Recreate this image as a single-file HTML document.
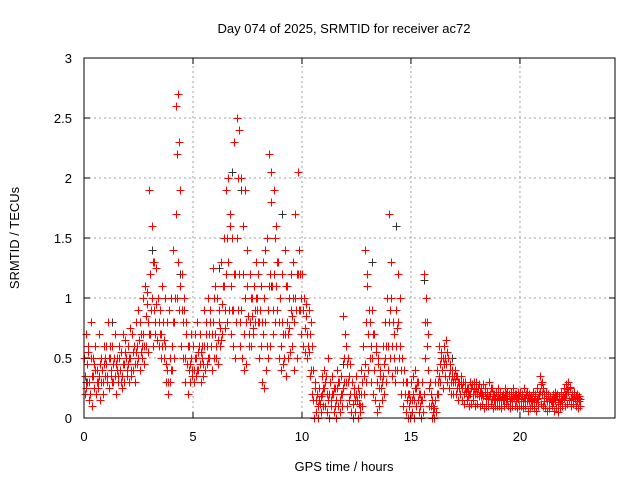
<!DOCTYPE html>
<html><head><meta charset="utf-8"><style>
body{margin:0;background:#fff;}
svg{display:block;font-family:"Liberation Sans",sans-serif;}
</style></head><body>
<svg id="chart" width="640" height="480">
<rect x="0" y="0" width="640" height="480" fill="#fff"/>
<text x="344" y="33" font-size="13" text-anchor="middle">Day 074 of 2025, SRMTID for receiver ac72</text>
<text x="344" y="471" font-size="13" text-anchor="middle">GPS time / hours</text>
<text transform="translate(19,238) rotate(-90)" font-size="13" text-anchor="middle">SRMTID / TECUs</text>
<g id="grid"></g><g id="marks"></g><g id="axes"></g>
</svg>
<script>
const xTicks=[0,5,10,15,20];
const yTicks=[0,0.5,1,1.5,2,2.5,3];
const yTickLabels=["0","0.5","1","1.5","2","2.5","3"];
const tStart=0, tStep=0.1;
const upper=[.5,.7,.6,.8,.5,.6,.4,.7,.5,.6, .6,.8,.5,.6,.7,.5,.6,.55,.7,.65, .6,.75,.7,.6,.8,.9,.7,1.0,1.1,1.05, 1.9,1.6,1.3,1.25,1.0,.9,1.1,1.0,.8,.9, 1.0,1.4,2.6,2.7,1.9,1.2,.9,.8,.6,.7, .6,.7,.8,.7,.6,.9,.8,1.0,.9,1.25, 1.1,1.0,.9,1.3,1.5,1.9,2.0,1.7,1.5,2.3, 2.5,2.4,2.0,1.6,1.9,1.4,1.2,1.0,1.1,1.3, 1.2,1.1,1.3,1.4,1.5,2.2,2.05,1.9,1.6,1.3, 1.0,1.2,1.4,1.1,1.0,1.2,1.3,1.7,2.05,1.2, 1.2,1.0,.95,.9,.8,.4,.3,.2,.25,.35, .4,.35,.5,.3,.35,.25,.4,.3,.35,.85, .6,.5,.45,.3,.25,.35,.2,.4,.6,1.4, 1.2,.8,.9,.7,.6,.5,.4,.6,.8,1.0, 1.7,1.0,.7,.9,1.2,.6,.5,.4,.3,.2, .3,.35,.4,.3,.2,.3,1.2,1.0,.4,.2, .1,.3,.4,.6,.55,.6,.65,.5,.45,.4, .4,.35,.3,.35,.3,.3,.25,.3,.28,.3, .3,.28,.25,.28,.25,.22,.3,.25,.2,.22, .25,.22,.2,.25,.22,.2,.22,.25,.2,.22, .22,.2,.25,.22,.2,.18,.22,.2,.25,.35, .3,.2,.22,.2,.18,.2,.22,.2,.18,.22, .25,.28,.3,.25,.2,.22,.2,.18];
const lower=[.2,.3,.15,.1,.25,.2,.3,.15,.3,.35, .3,.25,.35,.3,.2,.3,.4,.25,.3,.35, .3,.35,.4,.3,.45,.4,.5,.45,.6,.55, .7,.6,.7,.65,.6,.5,.5,.3,.2,.3, .4,.5,1.0,.9,.6,.5,.3,.2,.3,.35, .3,.35,.4,.3,.35,.4,.45,.5,.4,.5, .5,.45,.6,.7,.75,.8,.9,.7,.6,.5, .9,.6,.5,.4,.45,.6,.6,.7,.8,.9, .5,.3,.25,.4,.5,.6,.7,.8,.9,.5, .4,.45,.35,.5,.55,.6,.4,.5,.9,.7, .6,.55,.5,.35,.2,0,.05,0,.05,.1, .1,.05,0,.1,.05,0,.1,.05,.1,.3, .1,.15,.05,0,.05,0,.05,.1,.2,.3, .4,.3,.2,.15,.05,.1,.15,.2,.3,.4, .5,.35,.3,.4,.5,.2,.1,.05,0,0, .05,0,.1,.05,0,.05,.5,.6,.1,0, 0,.05,.2,.3,.25,.35,.3,.25,.2,.2, .2,.15,.2,.15,.12,.15,.1,.12,.15,.1, .12,.1,.12,.08,.1,.1,.12,.08,.1,.1, .1,.08,.1,.12,.1,.08,.1,.1,.08,.1, .1,.08,.1,.06,.08,.1,.08,.06,.1,.12, .1,.08,.06,.08,.1,.06,.08,.05,.08,.1, .1,.12,.15,.1,.12,.1,.08,.1];
const midA=[.35,.45,.3,.5,.35,.4,.25,.45,.4,.45, .45,.5,.4,.45,.35,.4,.5,.35,.45,.5, .45,.5,.55,.45,.6,.65,.55,.7,.85,.8, 1.2,1.0,.9,.95,.8,.7,.8,.6,.4,.5, .6,.8,1.7,1.3,1.1,.8,.5,.45,.4,.5, .4,.5,.55,.45,.5,.6,.6,.7,.6,.8, .7,.65,.75,.95,1.1,1.2,1.3,1.1,.9,1.2, 1.5,1.2,.9,.7,.8,.85,.8,.85,.9,1.0, .8,.6,.7,.8,.9,1.2,1.1,1.2,1.1,.8, .6,.7,.7,.8,.75,.85,.8,.9,1.2,.9, .9,.75,.7,.55,.4,.15,.15,.1,.12,.2, .25,.2,.2,.15,.2,.1,.25,.15,.2,.5, .3,.3,.2,.12,.15,.15,.12,.2,.35,.8, .7,.5,.5,.4,.3,.25,.25,.35,.5,.6, .9,.6,.5,.6,.8,.4,.3,.2,.15,.1, .15,.15,.25,.15,.1,.15,.8,.8,.25,.1, .05,.15,.3,.45,.4,.45,.45,.35,.3,.3, .3,.25,.25,.25,.2,.22,.18,.2,.2,.2, .2,.18,.18,.18,.17,.16,.2,.16,.15,.16, .17,.15,.15,.18,.16,.14,.16,.17,.14,.16, .16,.14,.17,.14,.14,.14,.15,.13,.17,.22, .2,.14,.14,.14,.14,.13,.15,.12,.13,.16, .17,.2,.22,.17,.16,.16,.14,.14];
const midB=[.25,.55,.2,.35,.45,.3,.35,.3,.2,.5, .35,.6,.3,.5,.45,.35,.3,.45,.55,.4, .5,.4,.6,.55,.5,.8,.6,.6,.95,.7, .9,1.3,.8,1.0,.7,.6,.65,.45,.3,.4, .8,1.0,2.2,2.3,.9,1.0,.7,.6,.45,.4, .5,.4,.6,.55,.45,.7,.5,.8,.7,1.0, .6,.8,.65,1.1,.9,1.5,1.6,.9,1.2,.8, 2.0,.8,1.2,1.0,1.1,.7,1.0,.75,1.0,.8, .9,.8,1.0,.6,1.1,1.8,.9,1.5,1.3,1.0, .8,.5,1.1,.7,.9,1.0,1.0,1.2,1.4,1.0, 1.0,.85,.6,.7,.6,.25,.2,.15,.18,.25, .3,.15,.3,.2,.25,.15,.3,.2,.25,.7, .45,.35,.3,.2,.2,.25,.1,.3,.45,1.1, .9,.6,.7,.55,.45,.35,.3,.45,.6,.8, 1.3,.8,.4,.75,1.0,.5,.4,.3,.2,.15, .2,.25,.3,.2,.15,.2,1.0,.7,.3,.15, .08,.2,.35,.5,.5,.5,.55,.4,.35,.35, .35,.3,.28,.3,.25,.25,.2,.25,.24,.25, .25,.22,.2,.22,.2,.18,.25,.2,.17,.18, .2,.18,.17,.2,.18,.17,.18,.2,.17,.18, .18,.17,.2,.17,.17,.16,.18,.16,.2,.28, .25,.17,.18,.17,.16,.17,.18,.16,.15,.18, .2,.24,.26,.2,.18,.18,.17,.16];
const blackT=[0.1,1.3,3.1,3.6,4.4,6.2,6.8,7.2,8.6,9.1,11.9,13.2,14.3,15.6,16.9];
const blackV=[0.3,0.8,1.4,0.6,1.2,1.25,2.05,1.9,1.1,1.7,0.45,1.3,1.6,1.15,0.5];
const X0=84,X1=615,Y0=418,Y1=58,XMAX=24.36,YMAX=3;
const sx=v=>X0+(X1-X0)*v/XMAX, sy=v=>Y0-(Y0-Y1)*v/YMAX;
const NS="http://www.w3.org/2000/svg";
const grid=document.getElementById('grid'),marks=document.getElementById('marks'),axes=document.getElementById('axes');
function mk(t,a,p){const e=document.createElementNS(NS,t);for(const k in a)e.setAttribute(k,a[k]);p.appendChild(e);return e;}
xTicks.forEach(v=>{const x=sx(v);
 if(v>0){const g=mk('line',{x1:x,x2:x,y1:Y0,y2:Y1,stroke:'#a0a0a0','stroke-dasharray':'2,3'},grid);
 
 }
 const t=mk('text',{x:x,y:Y0+23,'font-size':13,'text-anchor':'middle'},axes);t.textContent=v;
 
 
 mk('line',{x1:x,x2:x,y1:Y0,y2:Y0-6,stroke:'#000'},axes);mk('line',{x1:x,x2:x,y1:Y1,y2:Y1+6,stroke:'#000'},axes);});
yTicks.forEach((v,i)=>{const y=sy(v);
 if(v>0&&v<3){const g=mk('line',{x1:X0,x2:X1,y1:y,y2:y,stroke:'#a0a0a0','stroke-dasharray':'2,3'},grid);
 
 }
 const t=mk('text',{x:X0-12,y:y+5,'font-size':13,'text-anchor':'end'},axes);t.textContent=yTickLabels[i];
 
 
 mk('line',{x1:X0,x2:X0+6,y1:y,y2:y,stroke:'#000'},axes);mk('line',{x1:X1,x2:X1-6,y1:y,y2:y,stroke:'#000'},axes);});
const frame=mk('rect',{x:X0,y:Y1,width:X1-X0,height:Y0-Y1,fill:'none',stroke:'#000'},axes);


function plus(t,v){const x=Math.round(sx(t))+0.5,y=Math.round(sy(v))+0.5;return `M${x-4},${y}h8M${x},${y-4}v8`;}
let db='';blackT.forEach((t,i)=>db+=plus(t,blackV[i]));
const pb=mk('path',{d:db,stroke:'#333',fill:'none','stroke-width':1,'shape-rendering':'crispEdges'},marks);


let dr='';
upper.forEach((v,i)=>{const t=tStart+i*tStep;dr+=plus(t,v)+plus(t+0.025,midA[i])+plus(t+0.05,lower[i])+plus(t+0.075,midB[i]);});
const pr=mk('path',{d:dr,stroke:'#ff0000',fill:'none','stroke-width':1,'shape-rendering':'crispEdges'},marks);


</script>
</body></html>
